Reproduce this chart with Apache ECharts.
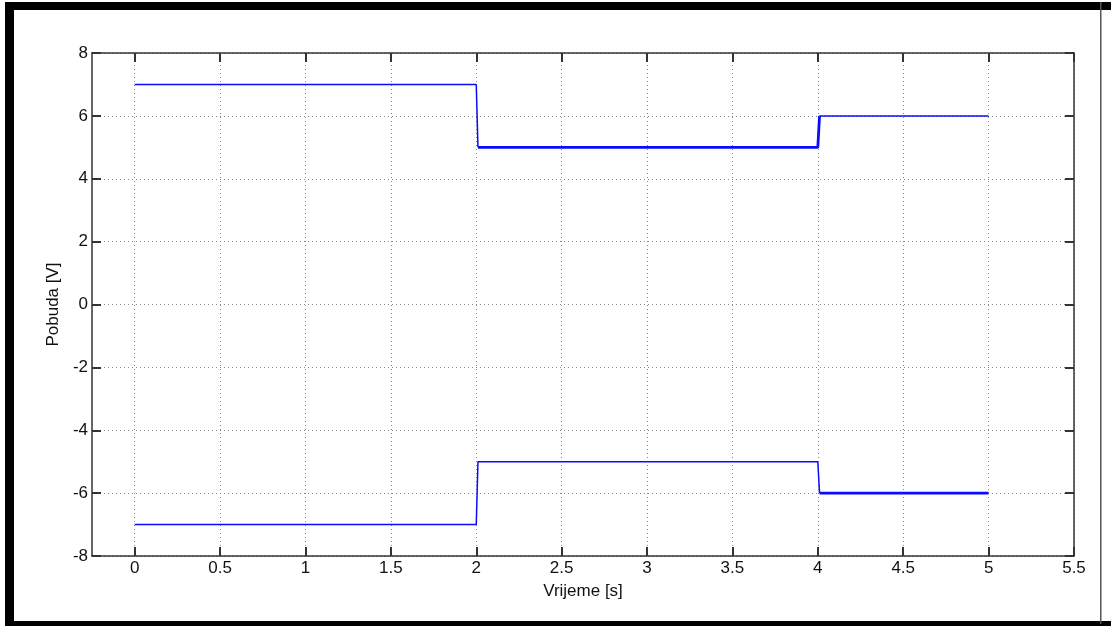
<!DOCTYPE html>
<html>
<head>
<meta charset="utf-8">
<script src="https://cdn.jsdelivr.net/npm/echarts@6/dist/echarts.min.js"></script>
<style>
  html, body { margin: 0; padding: 0; background: #fff; }
  #main { width: 1111px; height: 626px; }
</style>
</head>
<body>
<div id="main"></div>
<script>
// tick values
var xTicks = [0, 0.5, 1, 1.5, 2, 2.5, 3, 3.5, 4, 4.5, 5, 5.5];
// upper excitation (time, value) - thin and thick pieces
var upperThinT = [0, 2, 2.01];
var upperThinV = [7, 7, 5];
var upperThickT = [2.01, 4, 4.01];
var upperThickV = [5, 5, 6];
var upperEndT = [4.01, 5];
var upperEndV = [6, 6];
// lower excitation
var lowerThinT = [0, 2, 2.01, 4, 4.01];
var lowerThinV = [-7, -7, -5, -5, -6];
var lowerThickT = [4.01, 5];
var lowerThickV = [-6, -6];

function pairs(t, v) {
  var out = [];
  for (var i = 0; i < t.length; i++) out.push([t[i], v[i]]);
  return out;
}

var myChart = echarts.init(document.getElementById('main'));

var lineSeries = function (t, v, w) {
  return {
    type: 'line',
    data: pairs(t, v),
    showSymbol: false,
    symbol: 'none',
    animation: false,
    lineStyle: { color: '#0a0aff', width: w }
  };
};

var fontBase = { fontFamily: 'Liberation Sans, Arial, sans-serif', fontSize: 17, color: '#111' };

var axisLineStyle = { show: true, onZero: false, lineStyle: { color: '#333', width: 1.5 } };

var xBase = {
  type: 'value',
  min: -0.25,
  max: 5.5,
  axisLine: axisLineStyle,
  axisTick: { inside: true, length: 9, customValues: xTicks, lineStyle: { color: '#333', width: 2 } },
  splitLine: { show: true, lineStyle: { color: '#888', width: 1, type: [1, 3] } }
};

var option = {
  backgroundColor: '#fff',
  animation: false,
  grid: { left: 92, top: 53, right: 37, bottom: 70 },
  xAxis: [
    Object.assign({}, xBase, {
      position: 'bottom',
      name: 'Vrijeme [s]',
      nameLocation: 'middle',
      nameGap: 27,
      nameTextStyle: fontBase,
      axisLabel: Object.assign({ margin: 4, customValues: xTicks }, fontBase)
    }),
    Object.assign({}, xBase, {
      position: 'top',
      axisLabel: { show: false },
      splitLine: { show: false }
    })
  ],
  yAxis: [
    {
      type: 'value', min: -8, max: 8, interval: 2, position: 'left',
      name: 'Pobuda [V]',
      nameLocation: 'middle',
      nameGap: 27,
      nameRotate: 90,
      nameTextStyle: fontBase,
      axisLine: axisLineStyle,
      axisTick: { show: true, inside: true, length: 9, lineStyle: { color: '#333', width: 2 } },
      axisLabel: Object.assign({ margin: 4 }, fontBase),
      splitLine: { show: true, lineStyle: { color: '#888', width: 1, type: [1, 3] } }
    },
    {
      type: 'value', min: -8, max: 8, interval: 2, position: 'right',
      axisLine: axisLineStyle,
      axisTick: { show: true, inside: true, length: 9, lineStyle: { color: '#333', width: 2 } },
      axisLabel: { show: false },
      splitLine: { show: false }
    }
  ],
  graphic: [
    { type: 'rect', shape: { x: 5, y: 2, width: 1106, height: 8 }, style: { fill: '#000' } },
    { type: 'rect', shape: { x: 5, y: 2, width: 9, height: 624 }, style: { fill: '#000' } },
    { type: 'rect', shape: { x: 5, y: 621, width: 1106, height: 5 }, style: { fill: '#000' } },
    { type: 'rect', shape: { x: 1100, y: 2, width: 1.5, height: 622 }, style: { fill: '#555' } }
  ],
  series: [
    lineSeries(upperThinT, upperThinV, 1.5),
    lineSeries(upperThickT, upperThickV, 2.8),
    lineSeries(upperEndT, upperEndV, 1.5),
    lineSeries(lowerThinT, lowerThinV, 1.5),
    lineSeries(lowerThickT, lowerThickV, 2.8)
  ]
};

myChart.setOption(option);
</script>
</body>
</html>
